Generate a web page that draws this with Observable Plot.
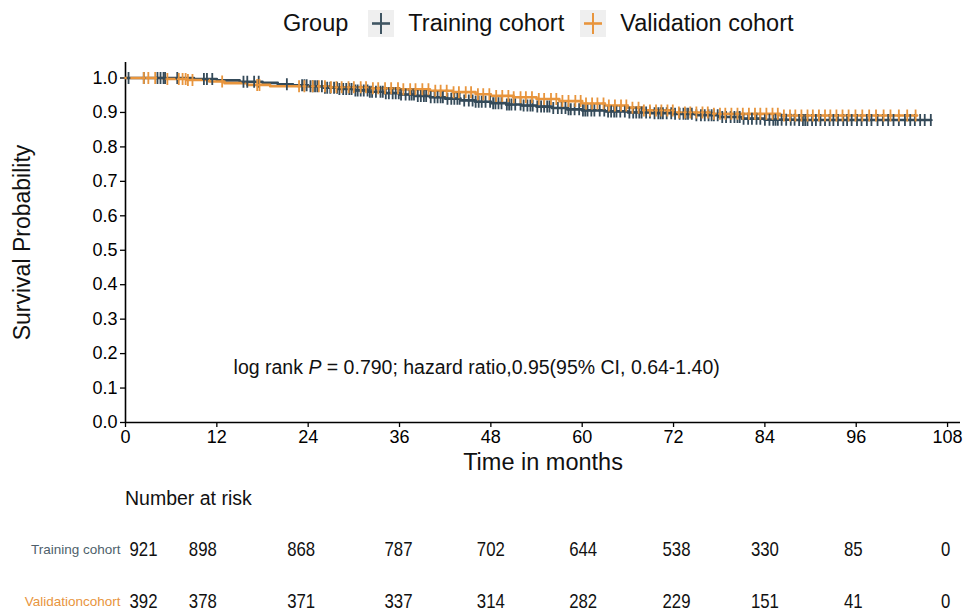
<!DOCTYPE html>
<html><head><meta charset="utf-8">
<script src="https://cdn.jsdelivr.net/npm/d3@7"></script>
<script src="https://cdn.jsdelivr.net/npm/@observablehq/plot@0.6"></script>
<style>
body{margin:0;background:#fff;font-family:"Liberation Sans",Arial,sans-serif;}
#wrap{position:relative;width:964px;height:615px;overflow:hidden;background:#fff;}
#legend{position:absolute;left:283px;top:9px;height:28px;display:flex;align-items:center;font-size:23.5px;color:#111;white-space:nowrap;}
#legend .key{display:inline-block;width:26px;height:27px;background:#EFEFEF;}
#legend svg{display:block;}
#main{position:absolute;left:0;top:45px;}
#risk{position:absolute;left:0;top:500px;}
#riskTitle{position:absolute;left:125px;top:486px;font-size:19.5px;line-height:24px;color:#111;z-index:2;}
</style></head>
<body>
<div id="wrap">
  <div id="legend">
    <span>Group</span>
    <span class="key" style="margin-left:20px"><svg width="26" height="27"><line x1="4" y1="13.5" x2="22" y2="13.5" stroke="#3F5562" stroke-width="2.6"/><line x1="13" y1="3" x2="13" y2="24" stroke="#3F5562" stroke-width="2"/></svg></span>
    <span style="margin-left:14px">Training cohort</span>
    <span class="key" style="margin-left:16px"><svg width="26" height="27"><line x1="4" y1="13.5" x2="22" y2="13.5" stroke="#E8953D" stroke-width="2.6"/><line x1="13" y1="3" x2="13" y2="24" stroke="#E8953D" stroke-width="2"/></svg></span>
    <span style="margin-left:14px">Validation cohort</span>
  </div>
  <div id="main"></div>
  <div id="risk"></div>
  <div id="riskTitle">Number at risk</div>
</div>
<script>
// ---- data ----
const groups = ["Training cohort", "Validation cohort"];
const groupColors = ["#344A59", "#E8953D"];
const riskLabelColors = ["#4E5F6B", "#E8953D"];

const xTicks = [0, 12, 24, 36, 48, 60, 72, 84, 96, 108];
const yTicks = [0, 0.1, 0.2, 0.3, 0.4, 0.5, 0.6, 0.7, 0.8, 0.9, 1.0];

// Kaplan-Meier steps (time in months, survival after the step)
const trainTimes = [0, 9, 12, 15, 18, 20, 22, 24, 26, 28, 30, 32, 34, 36, 38, 40, 42, 44, 46, 48, 50, 52, 54, 56, 58, 60, 63, 66, 69, 72, 75, 78, 81, 84, 88, 105.8];
const trainSurv  = [1, 0.997, 0.993, 0.989, 0.986, 0.982, 0.979, 0.976, 0.972, 0.968, 0.964, 0.96, 0.956, 0.952, 0.948, 0.944, 0.94, 0.935, 0.931, 0.927, 0.923, 0.92, 0.917, 0.913, 0.909, 0.906, 0.903, 0.9, 0.898, 0.896, 0.892, 0.887, 0.882, 0.879, 0.878, 0.878];

const validTimes = [0, 5, 8, 11, 13, 16, 19, 27, 32, 36, 40, 43, 46, 48, 51, 54, 57, 60, 63, 66, 68, 72, 77, 86, 104];
const validSurv  = [1, 0.997, 0.994, 0.99, 0.985, 0.98, 0.976, 0.973, 0.97, 0.967, 0.963, 0.959, 0.953, 0.948, 0.944, 0.939, 0.933, 0.926, 0.92, 0.914, 0.906, 0.9, 0.896, 0.891, 0.891];

// censoring times (months)
const trainCensor = [0.4, 2.4, 4.2, 4.6, 5.0, 5.2, 6.8, 10.3, 10.7, 11.4, 15.5, 16.0, 16.9, 17.5, 21.2,
  23.2, 23.5, 23.8, 24.3, 24.6, 24.9, 25.2, 25.8, 26.2, 26.5, 26.9, 27.4, 27.8, 28.1, 28.6, 29.0, 29.4, 29.7, 30.2, 30.5, 30.9, 31.3, 31.8, 32.1, 32.4, 32.9, 33.5, 33.8, 34.2, 34.6, 35.1, 35.5, 35.9, 36.2, 36.8, 37.3, 37.6, 37.9, 38.4, 38.8, 39.2, 39.5, 40.1, 40.6, 41.0, 41.4, 41.7, 42.3, 42.8, 43.2, 43.6, 43.9, 44.5, 45.1, 45.6, 46.0, 46.4, 46.8, 47.3, 47.9, 48.3, 48.6, 49.0, 49.4, 50.1, 50.4, 50.7, 51.2, 51.9, 52.3, 52.8, 53.2, 53.5, 54.1, 54.6, 55.0, 55.4, 55.7, 56.2, 56.8, 57.3, 57.8, 58.2, 58.5, 59.0, 59.6, 60.1, 60.4, 60.7, 61.2, 61.6, 62.3, 62.9, 63.4, 63.8, 64.2, 64.5, 65.0, 65.6, 66.2, 66.7, 67.1, 67.5, 67.8, 68.4, 68.9, 69.5, 70.0, 70.3, 70.6, 71.1, 71.7, 72.2, 72.8, 73.3, 73.6, 73.9, 74.4, 75.0, 75.6, 76.1, 76.6, 77.0, 77.3, 77.8, 78.4, 78.9, 79.5, 80.0, 80.4, 80.7, 81.2, 81.8, 82.3, 82.9, 83.4, 84.0, 84.6, 85.1, 85.4, 85.7, 86.2, 86.8, 87.4, 87.9, 88.5, 89.0, 89.3, 89.6, 90.2, 90.7, 91.3, 91.9, 92.5, 93.0, 93.6, 94.3, 94.8, 95.4, 96.1, 96.7, 97.4, 98.0, 98.8, 99.5, 100.2, 100.9, 101.6, 102.4, 103.1, 103.7, 104.4, 105.0, 105.8];
const validCensor = [2.4, 3.0, 3.9, 5.5, 7.0, 7.5, 7.9, 8.2, 8.8, 12.7, 17.3, 17.6,
  22.8, 23.5, 24.6, 25.4, 26.2, 27.0, 27.7, 28.4, 29.3, 30.0, 30.9, 31.6, 32.5, 33.2, 34.1, 34.9, 35.8, 36.5, 37.4, 38.1, 39.0, 39.8, 40.7, 41.4, 42.2, 43.1, 43.8, 44.7, 45.4, 46.3, 47.0, 47.8, 48.7, 49.5, 50.3, 51.0, 51.9, 52.6, 53.4, 54.3, 55.0, 55.9, 56.6, 57.4, 58.2, 59.1, 59.8, 60.5, 61.3, 62.0, 62.8, 63.5, 64.3, 65.1, 65.8, 66.6, 67.4, 68.1, 68.9, 69.7, 70.4, 71.2, 71.9, 72.7, 73.5, 74.2, 75.0, 75.8, 76.5, 77.3, 78.1, 78.8, 79.6, 80.4, 81.1, 81.9, 82.7, 83.4, 84.2, 85.0, 85.7, 86.5, 87.3, 88.0, 88.8, 89.6, 90.3, 91.1, 91.9, 92.6, 93.4, 94.2, 95.0, 95.9, 96.8, 97.7, 98.6, 99.6, 100.5, 101.6, 102.7, 103.8];

const riskTrain = [921, 898, 868, 787, 702, 644, 538, 330, 85, 0];
const riskValid = [392, 378, 371, 337, 314, 282, 229, 151, 41, 0];

const annotation = "log rank P = 0.790; hazard ratio,0.95(95% CI, 0.64-1.40)";
const annotPos = {x: 14.2, y: 0.16};

// ---- build ----
const fontMain = "'Liberation Sans', Arial, sans-serif";
const xDomain = [0, 109.7];

function survAt(times, surv, t) {
  const i = d3.bisectRight(times, t) - 1;
  return surv[Math.max(0, i)];
}
const trainCurve = trainTimes.map((t, i) => ({time: t, surv: trainSurv[i]}));
const validCurve = validTimes.map((t, i) => ({time: t, surv: validSurv[i]}));
const trainMarks = trainCensor.map(t => ({time: t, surv: survAt(trainTimes, trainSurv, t)}));
const validMarks = validCensor.map(t => ({time: t, surv: survAt(validTimes, validSurv, t)}));

const censorSymbol = {
  draw(ctx, size) {
    const h = Math.sqrt(size / Math.PI);
    ctx.moveTo(0, -h); ctx.lineTo(0, h);
    ctx.moveTo(-h * 0.3, 0); ctx.lineTo(h * 0.3, 0);
  }
};

const main = Plot.plot({
  width: 964, height: 435,
  marginTop: 17, marginLeft: 125, marginRight: 4, marginBottom: 58,
  x: {domain: xDomain},
  y: {domain: [0, 1.045]},
  style: {fontFamily: fontMain, fontSize: "18px", color: "#000", background: "white", overflow: "visible"},
  marks: [
    Plot.axisX({ticks: xTicks, tickSize: 5, tickPadding: 3, fontSize: 18, label: null, strokeWidth: 1.3}),
    Plot.axisY({ticks: yTicks, tickFormat: ".1f", tickSize: 5, tickPadding: 3, fontSize: 18, label: null, strokeWidth: 1.3}),
    Plot.ruleY([0], {stroke: "#000", strokeWidth: 1.6}),
    Plot.ruleX([0], {stroke: "#000", strokeWidth: 1.6}),
    Plot.line(trainCurve, {x: "time", y: "surv", stroke: groupColors[0], strokeWidth: 2.6, curve: "step-after"}),
    Plot.line(validCurve, {x: "time", y: "surv", stroke: groupColors[1], strokeWidth: 2.6, curve: "step-after"}),
    Plot.dot(trainMarks, {x: "time", y: "surv", symbol: censorSymbol, r: 6, stroke: groupColors[0], strokeWidth: 1.8, fill: "none"}),
    Plot.dot(validMarks, {x: "time", y: "surv", symbol: censorSymbol, r: 6, stroke: groupColors[1], strokeWidth: 1.8, fill: "none"}),
    Plot.text([annotation], {x: () => annotPos.x, y: () => annotPos.y, text: d => d, textAnchor: "start", fontSize: 19.5, fill: "#111"}),
    Plot.text(["Time in months"], {frameAnchor: "bottom", dy: 47, fontSize: 23.5, fill: "#111"}),
    Plot.text(["Survival Probability"], {frameAnchor: "left", rotate: -90, dx: -103, textAnchor: "middle", fontSize: 23, fill: "#111"})
  ]
});
document.getElementById("main").appendChild(main);

// italic P in annotation
d3.select(main).selectAll("text").filter(function () { return this.textContent === annotation; })
  .each(function () {
    const t = d3.select(this);
    t.text(null);
    t.append("tspan").text("log rank ");
    t.append("tspan").attr("font-style", "italic").text("P");
    t.append("tspan").text(" = 0.790; hazard ratio,0.95(95% CI, 0.64-1.40)");
  });

// ---- risk table ----
const riskOffsets = [4, -14, -7, -1, 0, 1, 3, 0, -3, -2];
const riskMarks = [];
xTicks.forEach((t, i) => {
  const rows = [{group: groups[0], time: t, n: riskTrain[i]}, {group: groups[1], time: t, n: riskValid[i]}];
  riskMarks.push(Plot.text(rows, {x: "time", y: "group", text: d => String(d.n), dx: riskOffsets[i], textAnchor: i === 0 ? "start" : "middle", fontSize: 21, fill: "#111", className: "risk-num"}));
});
groups.forEach((g, gi) => {
  riskMarks.push(Plot.text([g], {y: d => d, text: d => gi === 1 ? "Validationcohort" : d, frameAnchor: "left", textAnchor: "end", fontSize: 13.5, fill: riskLabelColors[gi]}));
});
const risk = Plot.plot({
  width: 964, height: 115,
  marginTop: 0, marginLeft: 120, marginRight: 4, marginBottom: 0,
  x: {domain: xDomain, range: [125, 960], axis: null},
  y: {type: "point", domain: groups, range: [49, 101], padding: 0, axis: null},
  style: {fontFamily: fontMain, background: "transparent", overflow: "visible"},
  marks: riskMarks
});
document.getElementById("risk").appendChild(risk);

// condensed look of the risk-table numbers
d3.select(risk).selectAll(".risk-num text").each(function () {
  const len = this.getComputedTextLength();
  if (len > 0) {
    this.setAttribute("textLength", (len * 0.8).toFixed(1));
    this.setAttribute("lengthAdjust", "spacingAndGlyphs");
  }
});
</script>
</body></html>
